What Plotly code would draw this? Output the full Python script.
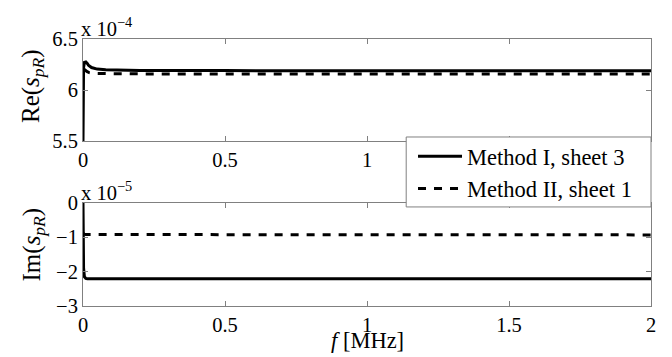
import plotly.graph_objects as go
from plotly.subplots import make_subplots

# frequency samples [MHz]
f = [0.0, 0.002, 0.005, 0.01, 0.015, 0.02, 0.03, 0.05, 0.08, 0.12, 0.2, 0.5, 1.0, 1.5, 2.0]
# Re(s_pR) x 1e-4
re_m1 = [5.5, 6.22, 6.27, 6.275, 6.26, 6.24, 6.22, 6.205, 6.198, 6.194, 6.192, 6.19, 6.19, 6.189, 6.189]
re_m2 = [6.21, 6.205, 6.2, 6.19, 6.18, 6.172, 6.166, 6.162, 6.16, 6.159, 6.158, 6.157, 6.157, 6.157, 6.157]
# Im(s_pR) x 1e-5
im_m1 = [0.0, -1.9, -2.15, -2.2, -2.21, -2.21, -2.21, -2.21, -2.21, -2.21, -2.21, -2.21, -2.21, -2.21, -2.21]
im_m2 = [-0.88, -0.9, -0.91, -0.92, -0.92, -0.93, -0.93, -0.93, -0.93, -0.93, -0.93, -0.93, -0.93, -0.93, -0.93]

names = ["Method I, sheet 3", "Method II, sheet 1"]
xticks = [0, 0.5, 1, 1.5, 2]
xticklabels = ["0", "0.5", "1", "1.5", "2"]
xticklabels_top = ["0", "0.5", "1", "1.5", ""]   # "2" hidden behind the legend in the reference
re_ticks = [5.5, 6, 6.5]
re_ticklabels = ["5.5", "6", "6.5"]
im_ticks = [0, -1, -2, -3]
im_ticklabels = ["0", "\u22121", "\u22122", "\u22123"]

FONT = "Liberation Serif, Times New Roman, serif"
AX = "#808080"
TICK_SIZE = 20.5

fig = make_subplots(rows=2, cols=1, vertical_spacing=0.232)

fig.add_trace(go.Scatter(x=f, y=re_m1, mode="lines", name=names[0],
                         line=dict(color="black", width=3)), row=1, col=1)
fig.add_trace(go.Scatter(x=f, y=re_m2, mode="lines", name=names[1],
                         line=dict(color="black", width=3, dash="8px,8px")), row=1, col=1)
fig.add_trace(go.Scatter(x=f, y=im_m1, mode="lines", name=names[0], showlegend=False,
                         line=dict(color="black", width=3)), row=2, col=1)
fig.add_trace(go.Scatter(x=f, y=im_m2, mode="lines", name=names[1], showlegend=False,
                         line=dict(color="black", width=3, dash="8px,8px")), row=2, col=1)

axcommon = dict(showline=True, linecolor=AX, linewidth=1, mirror="ticks", ticks="inside",
                ticklen=5, tickcolor=AX, showgrid=False, zeroline=False, automargin=False,
                tickfont=dict(family=FONT, size=TICK_SIZE, color="black"))

fig.update_xaxes(range=[0, 2], tickvals=xticks, domain=[0, 1], **axcommon)
fig.update_xaxes(ticktext=xticklabels_top, row=1, col=1)
fig.update_xaxes(ticktext=xticklabels, row=2, col=1)
fig.update_yaxes(**axcommon)
fig.update_yaxes(range=[5.5, 6.5], tickvals=re_ticks, ticktext=re_ticklabels, domain=[0.618, 1.0], row=1, col=1)
fig.update_yaxes(range=[-3, 0], tickvals=im_ticks, ticktext=im_ticklabels, domain=[0.0, 0.386], row=2, col=1)

# axis titles
fig.add_annotation(xref="paper", yref="paper", x=0, y=0.809, xshift=-50, yshift=4, textangle=-90,
                   xanchor="center", yanchor="middle",
                   text="Re(<i>s</i><sub><i>pR</i></sub>)", showarrow=False,
                   font=dict(family=FONT, size=25, color="black"))
fig.add_annotation(xref="paper", yref="paper", x=0, y=0.193, xshift=-50, yshift=10, textangle=-90,
                   xanchor="center", yanchor="middle",
                   text="Im(<i>s</i><sub><i>pR</i></sub>)", showarrow=False,
                   font=dict(family=FONT, size=25, color="black"))
fig.add_annotation(xref="paper", yref="paper", x=0.5, y=0, yshift=-34, xanchor="center", yanchor="middle",
                   text="<i>f</i> [MHz]", showarrow=False,
                   font=dict(family=FONT, size=22.5, color="black"))

fig.add_annotation(xref="paper", yref="paper", x=0, y=1.0, xanchor="left", yanchor="bottom",
                   text="x 10<sup>\u22124</sup>", showarrow=False, yshift=-3, xshift=-4,
                   font=dict(family=FONT, size=TICK_SIZE, color="black"))
fig.add_annotation(xref="paper", yref="paper", x=0, y=0.386, xanchor="left", yanchor="bottom",
                   text="x 10<sup>\u22125</sup>", showarrow=False, yshift=-3, xshift=-4,
                   font=dict(family=FONT, size=TICK_SIZE, color="black"))

# legend frame (white box with grey border, spanning across both axes)
fig.add_shape(type="rect", xref="paper", yref="paper", x0=0.569, x1=1.0, y0=0.371, y1=0.633,
              fillcolor="white", line=dict(color=AX, width=1), layer="above")

# page body adds an 8px offset; figure sized so the plot area lands where the reference has it
fig.update_layout(
    width=664, height=349,
    margin=dict(l=75, r=21, t=31, b=51),
    paper_bgcolor="white", plot_bgcolor="white",
    font=dict(family=FONT, size=TICK_SIZE, color="black"),
    legend=dict(x=0.581, y=0.640, xanchor="left", yanchor="top", bgcolor="rgba(0,0,0,0)",
                borderwidth=0, itemwidth=44,
                font=dict(family=FONT, size=22.5, color="black"), tracegroupgap=0),
    showlegend=True,
)

fig.write_html("out.html")
